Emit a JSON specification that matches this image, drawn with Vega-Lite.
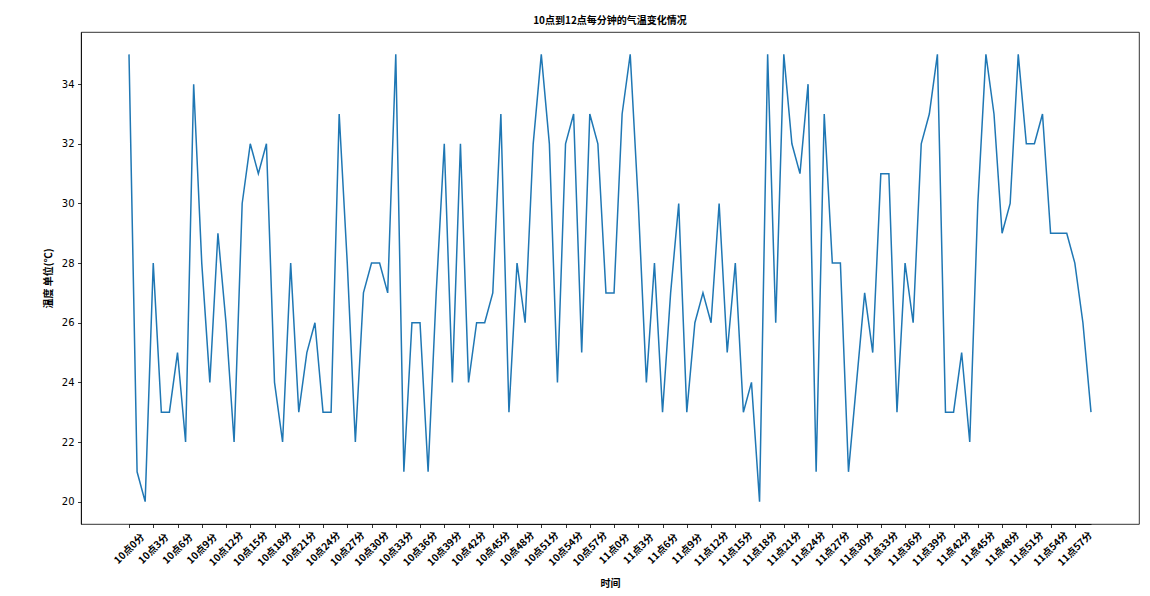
{
  "$schema": "https://vega.github.io/schema/vega-lite/v6.json",
  "autosize": {"type": "none"},
  "padding": {"left": 81, "top": 32, "right": 11, "bottom": 72},
  "width": 1058,
  "height": 492,
  "background": "white",
  "config": {
    "view": {"stroke": "black", "strokeWidth": 0.8},
    "axis": {"grid": false, "domainColor": "black", "domainWidth": 0.8, "tickColor": "black", "tickWidth": 0.8, "tickSize": 3.5, "labelColor": "black", "titleColor": "black"}
  },
  "title": {"text": "10点到12点每分钟的气温变化情况", "font": "Noto Sans CJK SC", "fontWeight": "bold", "fontSize": 10, "color": "black", "anchor": "middle", "offset": 6},
  "data": {"values": [
    {"time": "10点0分", "temp": 35}, {"time": "10点1分", "temp": 21}, {"time": "10点2分", "temp": 20}, {"time": "10点3分", "temp": 28}, {"time": "10点4分", "temp": 23}, {"time": "10点5分", "temp": 23}, {"time": "10点6分", "temp": 25}, {"time": "10点7分", "temp": 22}, {"time": "10点8分", "temp": 34}, {"time": "10点9分", "temp": 28},
    {"time": "10点10分", "temp": 24}, {"time": "10点11分", "temp": 29}, {"time": "10点12分", "temp": 26}, {"time": "10点13分", "temp": 22}, {"time": "10点14分", "temp": 30}, {"time": "10点15分", "temp": 32}, {"time": "10点16分", "temp": 31}, {"time": "10点17分", "temp": 32}, {"time": "10点18分", "temp": 24}, {"time": "10点19分", "temp": 22},
    {"time": "10点20分", "temp": 28}, {"time": "10点21分", "temp": 23}, {"time": "10点22分", "temp": 25}, {"time": "10点23分", "temp": 26}, {"time": "10点24分", "temp": 23}, {"time": "10点25分", "temp": 23}, {"time": "10点26分", "temp": 33}, {"time": "10点27分", "temp": 28}, {"time": "10点28分", "temp": 22}, {"time": "10点29分", "temp": 27},
    {"time": "10点30分", "temp": 28}, {"time": "10点31分", "temp": 28}, {"time": "10点32分", "temp": 27}, {"time": "10点33分", "temp": 35}, {"time": "10点34分", "temp": 21}, {"time": "10点35分", "temp": 26}, {"time": "10点36分", "temp": 26}, {"time": "10点37分", "temp": 21}, {"time": "10点38分", "temp": 27}, {"time": "10点39分", "temp": 32},
    {"time": "10点40分", "temp": 24}, {"time": "10点41分", "temp": 32}, {"time": "10点42分", "temp": 24}, {"time": "10点43分", "temp": 26}, {"time": "10点44分", "temp": 26}, {"time": "10点45分", "temp": 27}, {"time": "10点46分", "temp": 33}, {"time": "10点47分", "temp": 23}, {"time": "10点48分", "temp": 28}, {"time": "10点49分", "temp": 26},
    {"time": "10点50分", "temp": 32}, {"time": "10点51分", "temp": 35}, {"time": "10点52分", "temp": 32}, {"time": "10点53分", "temp": 24}, {"time": "10点54分", "temp": 32}, {"time": "10点55分", "temp": 33}, {"time": "10点56分", "temp": 25}, {"time": "10点57分", "temp": 33}, {"time": "10点58分", "temp": 32}, {"time": "10点59分", "temp": 27},
    {"time": "11点0分", "temp": 27}, {"time": "11点1分", "temp": 33}, {"time": "11点2分", "temp": 35}, {"time": "11点3分", "temp": 30}, {"time": "11点4分", "temp": 24}, {"time": "11点5分", "temp": 28}, {"time": "11点6分", "temp": 23}, {"time": "11点7分", "temp": 27}, {"time": "11点8分", "temp": 30}, {"time": "11点9分", "temp": 23},
    {"time": "11点10分", "temp": 26}, {"time": "11点11分", "temp": 27}, {"time": "11点12分", "temp": 26}, {"time": "11点13分", "temp": 30}, {"time": "11点14分", "temp": 25}, {"time": "11点15分", "temp": 28}, {"time": "11点16分", "temp": 23}, {"time": "11点17分", "temp": 24}, {"time": "11点18分", "temp": 20}, {"time": "11点19分", "temp": 35},
    {"time": "11点20分", "temp": 26}, {"time": "11点21分", "temp": 35}, {"time": "11点22分", "temp": 32}, {"time": "11点23分", "temp": 31}, {"time": "11点24分", "temp": 34}, {"time": "11点25分", "temp": 21}, {"time": "11点26分", "temp": 33}, {"time": "11点27分", "temp": 28}, {"time": "11点28分", "temp": 28}, {"time": "11点29分", "temp": 21},
    {"time": "11点30分", "temp": 24}, {"time": "11点31分", "temp": 27}, {"time": "11点32分", "temp": 25}, {"time": "11点33分", "temp": 31}, {"time": "11点34分", "temp": 31}, {"time": "11点35分", "temp": 23}, {"time": "11点36分", "temp": 28}, {"time": "11点37分", "temp": 26}, {"time": "11点38分", "temp": 32}, {"time": "11点39分", "temp": 33},
    {"time": "11点40分", "temp": 35}, {"time": "11点41分", "temp": 23}, {"time": "11点42分", "temp": 23}, {"time": "11点43分", "temp": 25}, {"time": "11点44分", "temp": 22}, {"time": "11点45分", "temp": 30}, {"time": "11点46分", "temp": 35}, {"time": "11点47分", "temp": 33}, {"time": "11点48分", "temp": 29}, {"time": "11点49分", "temp": 30},
    {"time": "11点50分", "temp": 35}, {"time": "11点51分", "temp": 32}, {"time": "11点52分", "temp": 32}, {"time": "11点53分", "temp": 33}, {"time": "11点54分", "temp": 29}, {"time": "11点55分", "temp": 29}, {"time": "11点56分", "temp": 29}, {"time": "11点57分", "temp": 28}, {"time": "11点58分", "temp": 26}, {"time": "11点59分", "temp": 23}
  ]},
  "mark": {"type": "line", "color": "#1f77b4", "strokeWidth": 1.5},
  "encoding": {
    "x": {
      "field": "time", "type": "ordinal", "sort": null,
      "scale": {"type": "point", "padding": 0, "range": [48, 1010]},
      "axis": {
        "title": "时间", "titleFont": "Noto Sans CJK SC", "titleFontWeight": "bold", "titleFontSize": 10,
        "titleY": 59, "titleBaseline": "middle",
        "values": ["10点0分","10点3分","10点6分","10点9分","10点12分","10点15分","10点18分","10点21分","10点24分","10点27分","10点30分","10点33分","10点36分","10点39分","10点42分","10点45分","10点48分","10点51分","10点54分","10点57分","11点0分","11点3分","11点6分","11点9分","11点12分","11点15分","11点18分","11点21分","11点24分","11点27分","11点30分","11点33分","11点36分","11点39分","11点42分","11点45分","11点48分","11点51分","11点54分","11点57分"],
        "labelAngle": -45, "labelAlign": "center", "labelBaseline": "middle", "labelPadding": 21, "labelOffset": 0,
        "labelFont": "Noto Sans CJK SC", "labelFontWeight": "bold", "labelFontSize": 10, "labelOverlap": false
      }
    },
    "y": {
      "field": "temp", "type": "quantitative",
      "scale": {"domain": [19.25, 35.75], "nice": false, "zero": false},
      "axis": {
        "title": "温度 单位(℃)", "titleFont": "Noto Sans CJK SC", "titleFontWeight": "bold", "titleFontSize": 10,
        "titleX": -33, "titleBaseline": "middle",
        "values": [20, 22, 24, 26, 28, 30, 32, 34],
        "labelFont": "DejaVu Sans", "labelFontSize": 10, "labelPadding": 3.5
      }
    }
  }
}
